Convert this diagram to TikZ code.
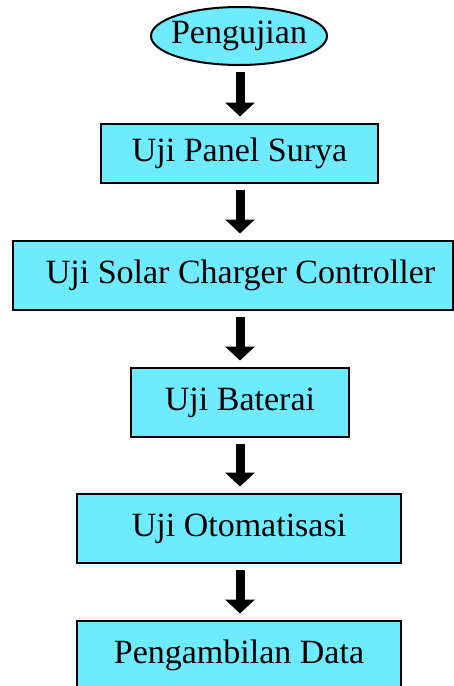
\documentclass[tikz,border=0pt]{standalone}
\usepackage{fontspec}
\setmainfont{Liberation Serif}
\usetikzlibrary{shapes.geometric,arrows.meta}
\definecolor{boxfill}{RGB}{110,235,255}
\begin{document}
\begin{tikzpicture}[x=1pt,y=-1pt,
  every node/.style={font=\fontsize{34}{40}\selectfont, text=black},
  stepbox/.style={draw=black, line width=2pt, fill=boxfill, rectangle, inner sep=0pt},
  startnode/.style={draw=black, line width=2pt, fill=boxfill, ellipse, inner sep=0pt, minimum width=176pt, minimum height=58pt},
  blockarrow/.style={line width=9pt, -{Triangle[width=29pt,length=14pt]}, shorten <=6pt, shorten >=6.5pt}
]
\useasboundingbox (0,0) rectangle (454,686);
\begin{scope}
\clip (0,0) rectangle (454,686);
\node[startnode] (n0) at (239,36) {\makebox[0pt]{Pengujian}};
\node[stepbox, minimum width=277pt, minimum height=59pt] (n1) at (239.5,153.5) {Uji Panel Surya};
\node[stepbox, minimum width=440pt, minimum height=69pt] (n2) at (233,275.5) {\makebox[0pt]{\hspace*{15pt}Uji Solar Charger Controller}};
\node[stepbox, minimum width=218pt, minimum height=69pt] (n3) at (240,402.5) {Uji Baterai};
\node[stepbox, minimum width=324pt, minimum height=69pt] (n4) at (239,528.5) {Uji Otomatisasi};
\node[stepbox, minimum width=324pt, minimum height=69pt] (n5) at (239,655.5) {Pengambilan Data};
\coordinate (ax) at (240,0);
\draw[blockarrow] (ax |- n0.south) -- (ax |- n1.north);
\draw[blockarrow] (ax |- n1.south) -- (ax |- n2.north);
\draw[blockarrow] (ax |- n2.south) -- (ax |- n3.north);
\draw[blockarrow] (ax |- n3.south) -- (ax |- n4.north);
\draw[blockarrow] (ax |- n4.south) -- (ax |- n5.north);
\end{scope}
\end{tikzpicture}
\end{document}
